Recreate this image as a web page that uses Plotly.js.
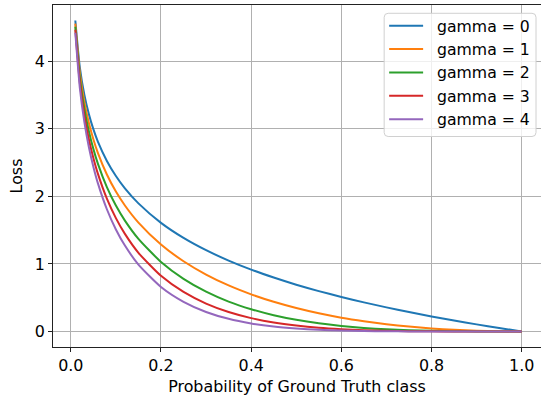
<!DOCTYPE html>
<html>
<head>
<meta charset="utf-8">
<script src="https://cdn.plot.ly/plotly-3.0.1.min.js"></script>
<style>html,body{margin:0;padding:0;background:#fff;}#chart{width:541px;height:398px;}</style>
</head>
<body>
<div id="chart"></div>
<script>
// Probability of ground truth class (x values)
const prob = [0.01,0.02,0.03,0.04,0.05,0.06,0.08,0.1,0.12,0.15,0.2,0.25,0.3,0.35,0.4,0.45,0.5,0.55,0.6,0.65,0.7,0.75,0.8,0.85,0.9,0.95,1.0];
// Loss values read for each gamma
const lossG0 = [4.605,3.912,3.507,3.219,2.996,2.813,2.526,2.303,2.120,1.897,1.609,1.386,1.204,1.050,0.916,0.799,0.693,0.598,0.511,0.431,0.357,0.288,0.223,0.163,0.105,0.051,0];
const lossG1 = [4.559,3.834,3.401,3.090,2.846,2.645,2.324,2.072,1.866,1.613,1.288,1.040,0.843,0.682,0.550,0.439,0.347,0.269,0.204,0.151,0.107,0.072,0.045,0.024,0.0105,0.0026,0];
const lossG2 = [4.513,3.757,3.299,2.966,2.704,2.486,2.138,1.865,1.642,1.371,1.030,0.780,0.590,0.443,0.330,0.241,0.173,0.121,0.082,0.053,0.032,0.018,0.009,0.0036,0.001,0.0001,0];
const lossG3 = [4.468,3.682,3.200,2.847,2.569,2.337,1.967,1.679,1.445,1.165,0.824,0.585,0.413,0.288,0.198,0.133,0.087,0.054,0.033,0.019,0.0096,0.0045,0.0018,0.0005,0.0001,0,0];
const lossG4 = [4.424,3.608,3.104,2.733,2.441,2.197,1.810,1.511,1.272,0.990,0.659,0.439,0.289,0.187,0.119,0.073,0.044,0.024,0.013,0.0067,0.0029,0.0011,0.0004,0.0001,0,0,0];
const seriesNames = ["gamma = 0","gamma = 1","gamma = 2","gamma = 3","gamma = 4"];
const colors = ["#1f77b4","#ff7f0e","#2ca02c","#d62728","#9467bd"];
const xTicks = [0,0.2,0.4,0.6,0.8,1.0];
const xTickText = ["0.0","0.2","0.4","0.6","0.8","1.0"];
const yTicks = [0,1,2,3,4];

const W = 541, H = 398;
const M = {l:52.5, r:0, t:5, b:50.5};
const PW = W - M.l - M.r, PH = H - M.t - M.b;
// pixel -> paper helpers (for the hand-drawn legend box)
const px = x => (x - M.l) / PW;
const py = y => (H - M.b - y) / PH;

const allLoss = [lossG0,lossG1,lossG2,lossG3,lossG4];
const traces = allLoss.map((ys,i)=>({
  x: prob, y: ys, type:'scatter', mode:'lines', name: seriesNames[i],
  line:{color:colors[i], width:2, shape:'spline', smoothing:0.6}
}));

const font = {family:'"DejaVu Sans", sans-serif', size:15.9, color:'#000'};
const legFont = {family:'"DejaVu Sans", sans-serif', size:15.7, color:'#000'};

// legend frame (rounded rectangle)
const bx0 = 384, bx1 = 536, by0 = 13.3, by1 = 136.7, r = 4;
const rx = r / PW, ry = r / PH;
const X0 = px(bx0), X1 = px(bx1), Y0 = py(by0), Y1 = py(by1);
const framePath = `M ${X0+rx},${Y0} L ${X1-rx},${Y0} Q ${X1},${Y0} ${X1},${Y0-ry} ` +
  `L ${X1},${Y1+ry} Q ${X1},${Y1} ${X1-rx},${Y1} L ${X0+rx},${Y1} Q ${X0},${Y1} ${X0},${Y1+ry} ` +
  `L ${X0},${Y0-ry} Q ${X0},${Y0} ${X0+rx},${Y0} Z`;
const shapes = [{type:'path', xref:'paper', yref:'paper', path:framePath, layer:'above',
  fillcolor:'rgba(255,255,255,0.8)', line:{color:'#d0d0d0', width:1}}];
const annotations = [];
seriesNames.forEach((nm,i)=>{
  const yy = 25.7 + 23.4*i;
  shapes.push({type:'line', xref:'paper', yref:'paper', layer:'above',
    x0:px(389), x1:px(423), y0:py(yy), y1:py(yy), line:{color:colors[i], width:2}});
  annotations.push({xref:'paper', yref:'paper', x:px(435), y:py(yy+0.5), xanchor:'left', yanchor:'middle',
    text:nm, showarrow:false, font:legFont});
});

const layout = {
  width:W, height:H, margin:M,
  paper_bgcolor:'#fff', plot_bgcolor:'#fff',
  font: font, showlegend:false,
  shapes: shapes, annotations: annotations,
  xaxis:{range:[-0.0395,1.0428], tickvals:xTicks, ticktext:xTickText,
    showgrid:true, gridcolor:'#b0b0b0', gridwidth:1,
    showline:true, linecolor:'#222', linewidth:1, mirror:true,
    ticks:'outside', ticklen:4, tickcolor:'#222', tickwidth:1,
    zeroline:false, tickfont:font,
    title:{text:'Probability of Ground Truth class', font:font, standoff:6}},
  yaxis:{range:[-0.23,4.835], tickvals:yTicks,
    showgrid:true, gridcolor:'#b0b0b0', gridwidth:1,
    showline:true, linecolor:'#222', linewidth:1,
    ticks:'outside', ticklen:4, tickcolor:'#222', tickwidth:1,
    zeroline:false, tickfont:font,
    title:{text:'Loss', font:font, standoff:8}}
};
Plotly.newPlot('chart', traces, layout, {displayModeBar:false, staticPlot:true});
</script>
</body>
</html>
